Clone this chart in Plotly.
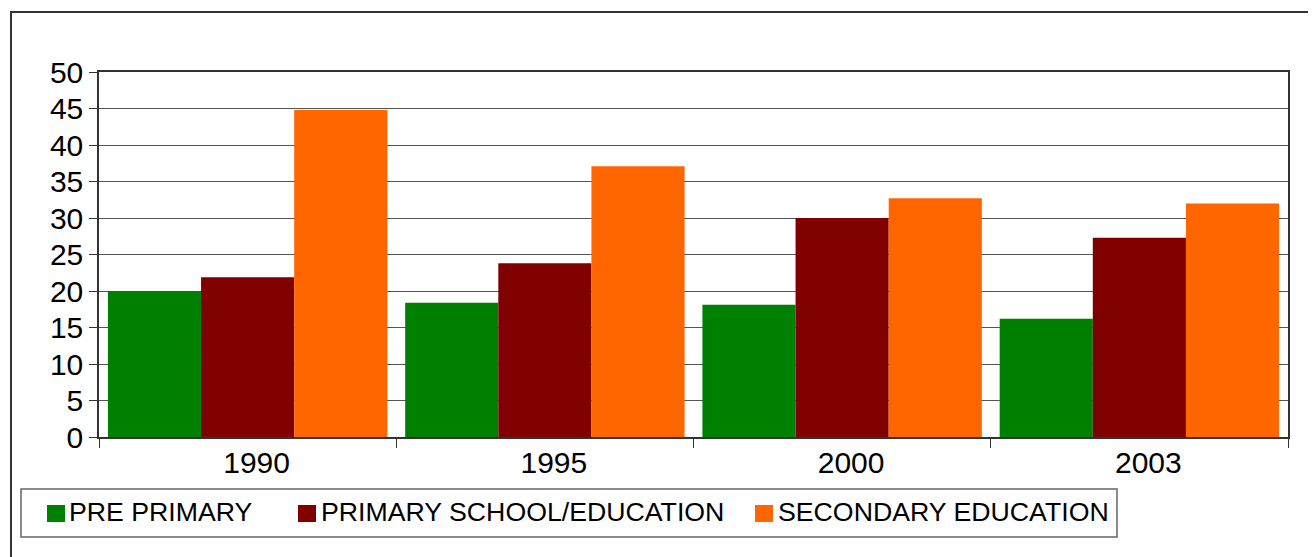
import plotly.graph_objects as go

years = ["1990", "1995", "2000", "2003"]
series_names = ["PRE PRIMARY", "PRIMARY SCHOOL/EDUCATION", "SECONDARY EDUCATION"]
pre_primary = [20.0, 18.4, 18.1, 16.2]
primary = [21.9, 23.8, 30.0, 27.3]
secondary = [44.8, 37.1, 32.7, 32.0]
colors = ["#008000", "#800000", "#FF6600"]
y_ticks = [0, 5, 10, 15, 20, 25, 30, 35, 40, 45, 50]

OFF = 8  # page body margin
W, H = 1316 - OFF, 557 - OFF
L, R, T, B = 99, 1288, 72, 437  # plot area in screen pixels


def px(x):
    return (x - L) / (R - L)


def py(y):
    return (B - y) / (B - T)


FONT = "Liberation Sans, Arial, sans-serif"

fig = go.Figure()
for name, vals, col in zip(series_names, [pre_primary, primary, secondary], colors):
    fig.add_trace(go.Bar(x=years, y=vals, name=name, marker=dict(color=col, line=dict(width=0)),
                         showlegend=False))

shapes = []
# outer frame
shapes.append(dict(type="rect", xref="paper", yref="paper",
                   x0=px(11), x1=px(1330), y0=py(12), y1=py(570),
                   line=dict(color="#333333", width=2), layer="below"))
# legend box
shapes.append(dict(type="rect", xref="paper", yref="paper",
                   x0=px(21), x1=px(1117), y0=py(489), y1=py(537),
                   line=dict(color="#666666", width=1.5)))

annotations = []
sq_x = [47, 298, 755]
txt_x = [67, 319, 776]
for name, col, sx, tx in zip(series_names, colors, sq_x, txt_x):
    shapes.append(dict(type="rect", xref="paper", yref="paper",
                       x0=px(sx), x1=px(sx + 18), y0=py(505), y1=py(522),
                       fillcolor=col, line=dict(width=0)))
    annotations.append(dict(text=name, xref="paper", yref="paper", x=px(tx), y=py(512),
                            xanchor="left", yanchor="middle", showarrow=False,
                            font=dict(family=FONT, size=26.7, color="black")))

fig.update_layout(
    width=W, height=H,
    margin=dict(l=L - OFF, r=W - (R - OFF), t=T - OFF, b=H - (B - OFF), pad=0),
    paper_bgcolor="white", plot_bgcolor="white",
    barmode="group", bargap=0.06, bargroupgap=0,
    font=dict(family=FONT, size=30, color="black"),
    shapes=shapes, annotations=annotations,
    showlegend=False,
)
fig.update_xaxes(type="category", tickson="boundaries", ticks="outside", ticklen=9,
                 tickcolor="#333333", showline=True, linecolor="#333333", linewidth=1.5,
                 mirror=True, showgrid=False, tickfont=dict(size=30),
                 ticklabelshift=9, ticklabelstandoff=-2)
fig.update_yaxes(range=[0, 50], tickvals=y_ticks, ticks="outside", ticklen=8,
                 tickcolor="#333333", showline=True, linecolor="#333333", linewidth=1.5,
                 mirror=True, showgrid=True, gridcolor="#555555", gridwidth=1,
                 zeroline=False, tickfont=dict(size=30))

fig.write_html("out.html")
